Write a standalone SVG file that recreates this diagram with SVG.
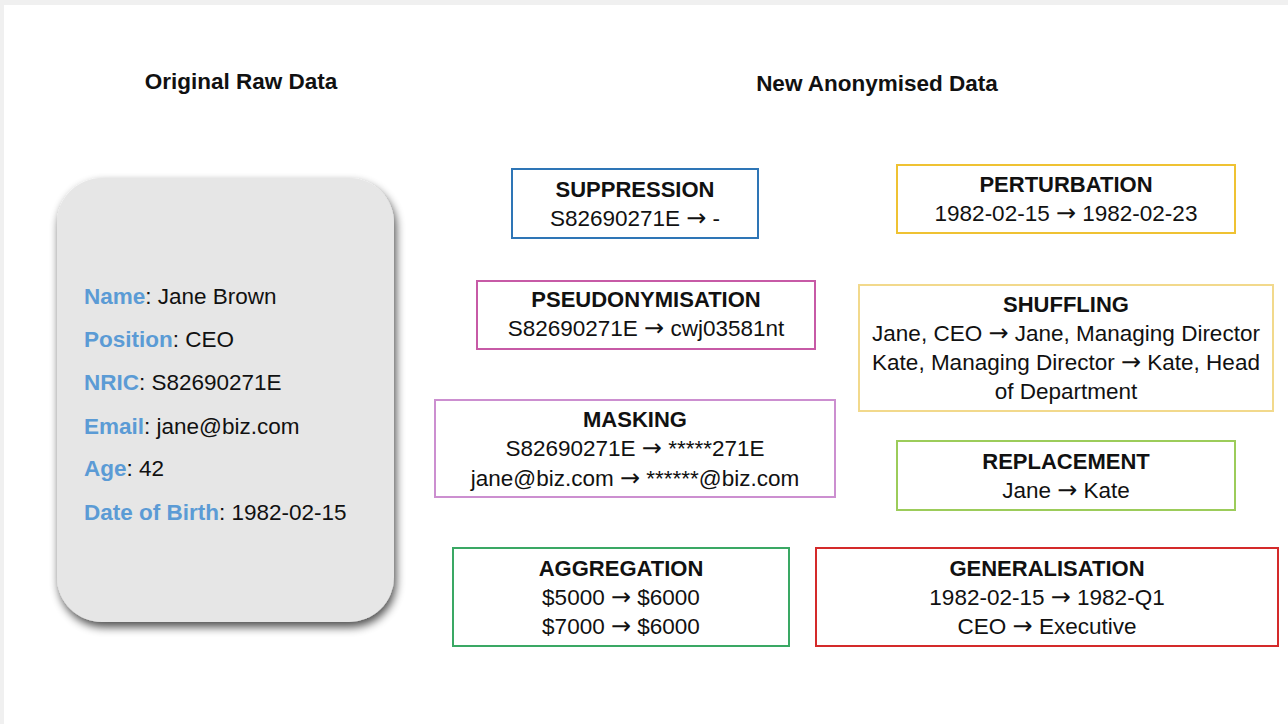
<svg xmlns="http://www.w3.org/2000/svg" width="1288" height="724" viewBox="0 0 1288 724">
<style>
text{font-family:"Liberation Sans",Arial,sans-serif;fill:#111}
.h{font-size:22.5px;font-weight:bold}
.t{font-size:22px;font-weight:bold;text-anchor:middle}
.b{font-size:22.5px;text-anchor:middle}
.c{font-size:22.5px}
.k{fill:#5b9bd5;font-weight:bold}
.a{font-family:"DejaVu Sans",sans-serif;font-size:24px}
.box{fill:#fff;stroke-width:2}
</style>
<defs>
<filter id="sh" x="-20%" y="-20%" width="140%" height="140%">
<feGaussianBlur in="SourceAlpha" stdDeviation="5"/>
<feOffset dx="2" dy="5" result="o"/>
<feComponentTransfer><feFuncA type="linear" slope="0.7"/></feComponentTransfer>
<feMerge><feMergeNode/><feMergeNode in="SourceGraphic"/></feMerge>
</filter>
</defs>
<rect width="1288" height="724" fill="#f0f0f0"/>
<rect x="4" y="5" width="1284" height="719" fill="#fff"/>
<text class="h" x="241" y="89" text-anchor="middle">Original Raw Data</text>
<text class="h" x="877" y="91" text-anchor="middle">New Anonymised Data</text>
<g id="raw">
<rect x="57" y="178" width="337" height="444" rx="45" fill="#e6e6e6" filter="url(#sh)"/>
<text class="c" x="84" y="304"><tspan class="k">Name</tspan>: Jane Brown</text>
<text class="c" x="84" y="347"><tspan class="k">Position</tspan>: CEO</text>
<text class="c" x="84" y="390"><tspan class="k">NRIC</tspan>: S82690271E</text>
<text class="c" x="84" y="434"><tspan class="k">Email</tspan>: jane@biz.com</text>
<text class="c" x="84" y="476"><tspan class="k">Age</tspan>: 42</text>
<text class="c" x="84" y="520"><tspan class="k">Date of Birth</tspan>: 1982-02-15</text>
</g>
<g id="suppression">
<rect class="box" x="512" y="169" width="246" height="69" stroke="#2e75b6"/>
<text class="t" x="635" y="197">SUPPRESSION</text>
<text class="b" x="635" y="226">S82690271E <tspan class="a">→</tspan> -</text>
</g>
<g id="pseudonymisation">
<rect class="box" x="477" y="281" width="338" height="68" stroke="#c75aa6"/>
<text class="t" x="646" y="307">PSEUDONYMISATION</text>
<text class="b" x="646" y="336">S82690271E <tspan class="a">→</tspan> cwj03581nt</text>
</g>
<g id="masking">
<rect class="box" x="435" y="400" width="400" height="97" stroke="#cc8fd0"/>
<text class="t" x="635" y="427">MASKING</text>
<text class="b" x="635" y="456">S82690271E <tspan class="a">→</tspan> *****271E</text>
<text class="b" x="635" y="486">jane@biz.com <tspan class="a">→</tspan> ******@biz.com</text>
</g>
<g id="aggregation">
<rect class="box" x="453" y="548" width="336" height="98" stroke="#3aa864"/>
<text class="t" x="621" y="576">AGGREGATION</text>
<text class="b" x="621" y="605">$5000 <tspan class="a">→</tspan> $6000</text>
<text class="b" x="621" y="634">$7000 <tspan class="a">→</tspan> $6000</text>
</g>
<g id="perturbation">
<rect class="box" x="897" y="165" width="338" height="68" stroke="#efc232"/>
<text class="t" x="1066" y="192">PERTURBATION</text>
<text class="b" x="1066" y="221">1982-02-15 <tspan class="a">→</tspan> 1982-02-23</text>
</g>
<g id="shuffling">
<rect class="box" x="859" y="285" width="414" height="126" stroke="#f2d98c"/>
<text class="t" x="1066" y="312">SHUFFLING</text>
<text class="b" x="1066" y="341">Jane, CEO <tspan class="a">→</tspan> Jane, Managing Director</text>
<text class="b" x="1066" y="370">Kate, Managing Director <tspan class="a">→</tspan> Kate, Head</text>
<text class="b" x="1066" y="399">of Department</text>
</g>
<g id="replacement">
<rect class="box" x="897" y="441" width="338" height="69" stroke="#9ccc5a"/>
<text class="t" x="1066" y="469">REPLACEMENT</text>
<text class="b" x="1066" y="498">Jane <tspan class="a">→</tspan> Kate</text>
</g>
<g id="generalisation">
<rect class="box" x="816" y="548" width="462" height="98" stroke="#d42a2a"/>
<text class="t" x="1047" y="576">GENERALISATION</text>
<text class="b" x="1047" y="605">1982-02-15 <tspan class="a">→</tspan> 1982-Q1</text>
<text class="b" x="1047" y="634">CEO <tspan class="a">→</tspan> Executive</text>
</g>
<g id="connectors"/>
</svg>
